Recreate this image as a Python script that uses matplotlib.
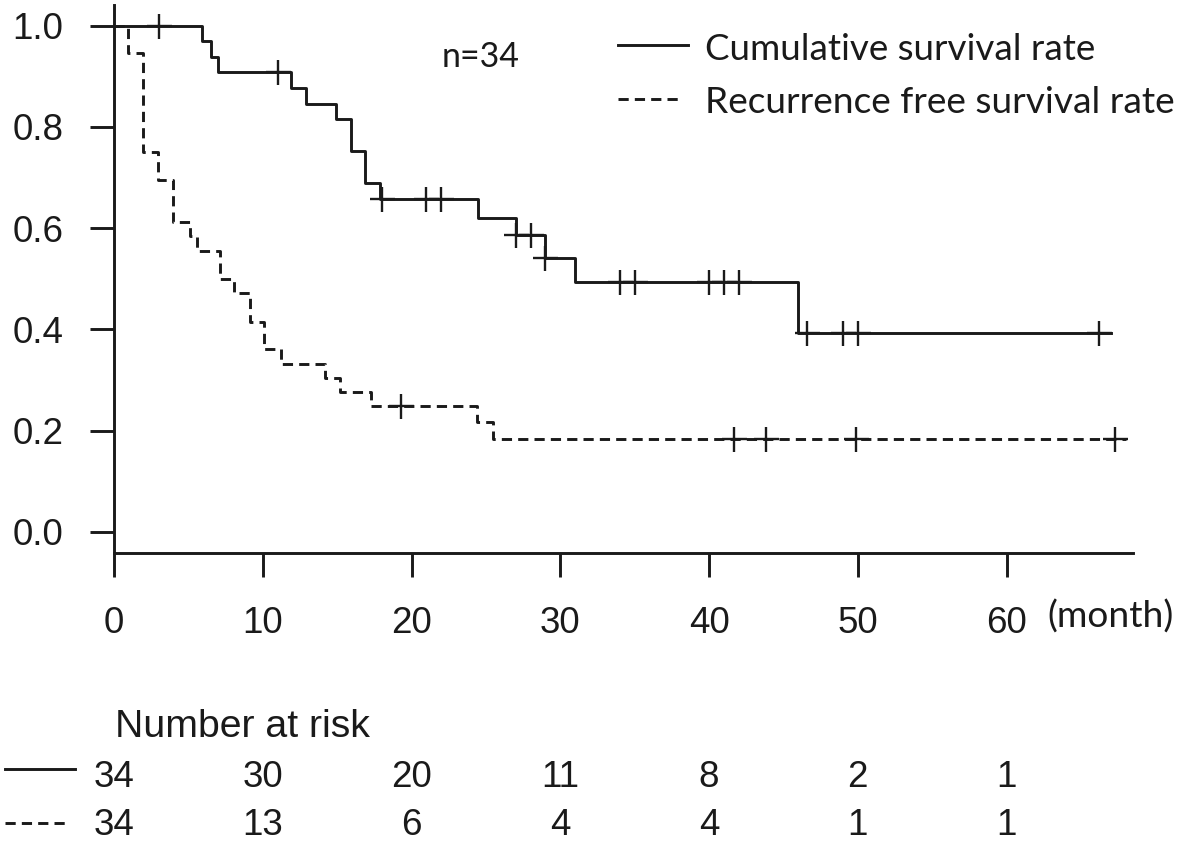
import numpy as np
import matplotlib
matplotlib.use("Agg")
import matplotlib.pyplot as plt
from matplotlib.lines import Line2D
from matplotlib.transforms import blended_transform_factory

plt.rcParams['font.family'] = ['Liberation Sans', 'DejaVu Sans']

# Kaplan-Meier steps (month, survival after the step)
os_times = [0, 5.9, 6.5, 7.0, 11.9, 12.9, 14.9, 15.9, 16.9, 17.9, 24.5, 27.0, 29.0, 31.0, 46.0]
os_surv = [1.0, 0.970, 0.939, 0.909, 0.878, 0.846, 0.816, 0.752, 0.690, 0.658,
           0.620, 0.586, 0.542, 0.493, 0.394]
os_end = 67.0
os_censor = [3.0, 11.0, 18.0, 21.0, 22.0, 27.0, 28.0, 29.0, 34.0, 35.0,
             40.0, 41.0, 42.0, 46.6, 49.0, 50.0, 66.2]

rfs_times = [0, 0.92, 1.97, 2.98, 3.95, 5.1, 5.6, 7.1, 8.05, 9.15, 10.1, 11.2,
             14.2, 15.2, 17.3, 24.4, 25.5]
rfs_surv = [1.0, 0.946, 0.751, 0.695, 0.613, 0.585, 0.555, 0.500, 0.473, 0.415,
            0.361, 0.332, 0.304, 0.277, 0.248, 0.217, 0.183]
rfs_end = 68.0
rfs_censor = [19.3, 41.7, 43.8, 49.9, 67.3]

risk_times = [0, 10, 20, 30, 40, 50, 60]
risk_os = [34, 30, 20, 11, 8, 2, 1]
risk_rfs = [34, 13, 6, 4, 4, 1, 1]

W, H = 1181, 843
LW = 2.1
INK = '#1a1a1a'
DASH = (0, (3.5, 2.1))


def fx(px):
    return px / W


def fy(py):
    return 1 - py / H


def level_at(times, surv, t):
    i = np.searchsorted(times, t, side='right') - 1
    return np.asarray(surv)[i]


def km(ax, times, surv, end, censor, ls):
    x = list(times) + [end]
    y = list(surv) + [surv[-1]]
    ax.step(x, y, where='post', color=INK, lw=LW, linestyle=ls, clip_on=False)
    cy = level_at(times, surv, censor)
    ax.plot(censor, cy, ls='none', marker='+', ms=18, mew=1.7, color=INK,
            clip_on=False)


fig = plt.figure(figsize=(W / 100, H / 100), dpi=100)
ax = fig.add_axes([fx(114), fy(552.7), fx(1133) - fx(114), fy(5) - fy(552.7)])
ax.set_xlim(0, 68.5)
ax.set_ylim(-0.041, 1.041)

km(ax, os_times, os_surv, os_end, os_censor, '-')
km(ax, rfs_times, rfs_surv, rfs_end, rfs_censor, DASH)

for s in ['top', 'right']:
    ax.spines[s].set_visible(False)
for s in ['left', 'bottom']:
    ax.spines[s].set_linewidth(LW)
    ax.spines[s].set_color(INK)

ax.set_xticks(risk_times)
ax.set_yticks([0, 0.2, 0.4, 0.6, 0.8, 1.0])
ax.set_yticklabels(['0.0', '0.2', '0.4', '0.6', '0.8', '1.0'])
ax.tick_params(axis='both', length=17.5, width=LW, color=INK,
               labelsize=26.5, labelcolor=INK)
ax.tick_params(axis='x', pad=21)
ax.tick_params(axis='y', pad=19)

lato = ['Lato', 'DejaVu Sans']
t_n = fig.text(fx(442), fy(67), 'n=34', fontsize=26, family=lato,
               va='baseline', color=INK)
t_month = fig.text(fx(1047), fy(628), '(month)', fontsize=26, family=lato,
                   va='baseline', color=INK)

# legend
fig.add_artist(Line2D([fx(618), fx(688)], [fy(45), fy(45)], lw=LW,
                      color=INK, transform=fig.transFigure))
fig.add_artist(Line2D([fx(618), fx(683)], [fy(99), fy(99)], lw=LW, ls=DASH,
                      color=INK, transform=fig.transFigure))
t_l1 = fig.text(fx(705), fy(60), 'Cumulative survival rate', fontsize=27,
                family=lato, va='baseline', color=INK)
t_l2 = fig.text(fx(705), fy(113), 'Recurrence free survival rate', fontsize=27,
                family=lato, va='baseline', color=INK)

# number at risk table
t_risk = fig.text(fx(115), fy(737), 'Number at risk', fontsize=27,
                  va='baseline', color=INK)
fig.add_artist(Line2D([fx(5), fx(75)], [fy(769), fy(769)], lw=LW,
                      color=INK, transform=fig.transFigure))
fig.add_artist(Line2D([fx(5), fx(68)], [fy(823), fy(823)], lw=LW, ls=DASH,
                      color=INK, transform=fig.transFigure))
tr = blended_transform_factory(ax.transData, fig.transFigure)
for t, a, b in zip(risk_times, risk_os, risk_rfs):
    ax.text(t, fy(787), str(a), transform=tr, ha='center', va='baseline',
            fontsize=26.5, color=INK, clip_on=False)
    ax.text(t, fy(835), str(b), transform=tr, ha='center', va='baseline',
            fontsize=26.5, color=INK, clip_on=False)

# fit the texts to the widths measured on the reference
fig.canvas.draw()
for txt, width in [(t_l1, 390), (t_l2, 470), (t_n, 78), (t_month, 126),
                   (t_risk, 255)]:
    bb = txt.get_window_extent()
    txt.set_fontsize(txt.get_fontsize() * width / bb.width)

fig.savefig('out.png', dpi=100)
